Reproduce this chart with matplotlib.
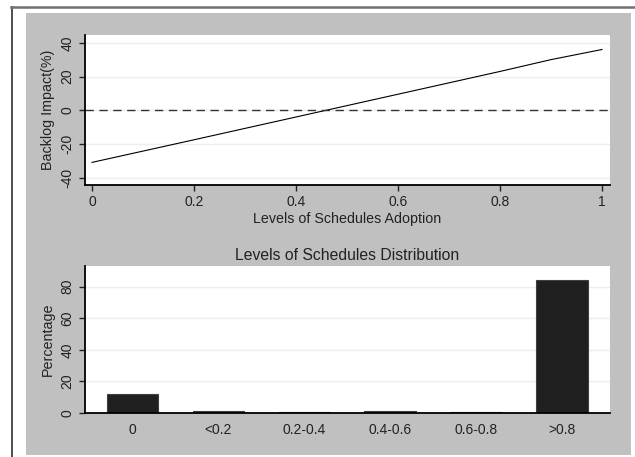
import numpy as np
import matplotlib
matplotlib.use('Agg')
from matplotlib import pyplot as plt
from matplotlib.patches import Rectangle
from matplotlib.lines import Line2D

plt.rcParams['font.family'] = ['Liberation Sans', 'DejaVu Sans']
plt.rcParams['axes.unicode_minus'] = False

## Data
#
adoption = [0.0, 0.2, 0.4, 0.6, 0.8, 0.9, 1.0]
impact = [-30.9, -17.5, -4.0, 9.5, 23.0, 30.0, 36.0]

levels = ['0', '<0.2', '0.2-0.4', '0.4-0.6', '0.6-0.8', '>0.8']
share = [12.0, 1.3, 0.8, 1.3, 0.7, 84.0]

W, H = 635, 457
txt = '#222222'
grid_c = '#e8f0f1'

fig = plt.figure(figsize=(W / 100, H / 100), dpi=100)
fig.patch.set_facecolor('white')

def px_axes(left, top, right, bottom):
    return fig.add_axes([left / W, 1 - bottom / H, (right - left) / W, (bottom - top) / H])

## Background panel and outer frame
#
fig.add_artist(Rectangle((26 / W, 1 - 455 / H), (631 - 26) / W, (455 - 13) / H,
                         transform=fig.transFigure, facecolor='#c0c0c0',
                         edgecolor='none', zorder=0))
fig.add_artist(Line2D([11.5 / W, 11.5 / W], [0, 1 - 6.5 / H], transform=fig.transFigure,
                      color='#303030', lw=1.2))
fig.add_artist(Line2D([11 / W, 1], [1 - 6.5 / H, 1 - 6.5 / H], transform=fig.transFigure,
                      color='#707070', lw=1.8))

def style(ax):
    ax.set_facecolor('white')
    for s in ['top', 'right']:
        ax.spines[s].set_visible(False)
    for s in ['left', 'bottom']:
        ax.spines[s].set_color('black')
        ax.spines[s].set_linewidth(1.3)
    ax.tick_params(colors=txt, labelsize=10, length=4, width=1, direction='out')
    ax.tick_params(axis='y', labelrotation=90)
    ax.grid(axis='y', color=grid_c, lw=1)
    ax.set_axisbelow(True)

## Backlog impact line
#
ax1 = px_axes(85, 35, 610, 185)
style(ax1)
ax1.plot(adoption, impact, color='black', lw=0.8)
ax1.axhline(0, color='#333333', lw=1, dashes=(6, 4))
ax1.set_xlim(-0.0137, 1.0157)
ax1.set_ylim(-44.3, 44.6)
ax1.set_xticks([0, 0.2, 0.4, 0.6, 0.8, 1])
ax1.set_xticklabels(['0', '0.2', '0.4', '0.6', '0.8', '1'])
ax1.set_yticks([-40, -20, 0, 20, 40])
for tl in ax1.get_yticklabels():
    tl.set_verticalalignment('center')
ax1.set_xlabel('Levels of Schedules Adoption', color=txt, fontsize=10.3, labelpad=2)
ax1.set_ylabel('Backlog Impact(%)', color=txt, fontsize=10.3, labelpad=4)

## Distribution bars
#
ax2 = px_axes(85, 266, 610, 413)
style(ax2)
x = np.arange(len(levels))
ax2.bar(x, share, width=0.6, color='#202020', edgecolor='#404040', lw=0.8)
ax2.set_xlim(-0.553, 5.559)
ax2.set_ylim(0, 93.1)
ax2.set_xticks(x)
ax2.set_xticklabels(levels)
ax2.tick_params(axis='x', length=0, pad=7)
ax2.set_yticks([0, 20, 40, 60, 80])
for tl in ax2.get_yticklabels():
    tl.set_verticalalignment('center')
ax2.set_ylabel('Percentage', color=txt, fontsize=10.3, labelpad=4)
ax2.set_title('Levels of Schedules Distribution', color=txt, fontsize=11.3, pad=4)

fig.savefig('out.png', dpi=100, facecolor='white')
